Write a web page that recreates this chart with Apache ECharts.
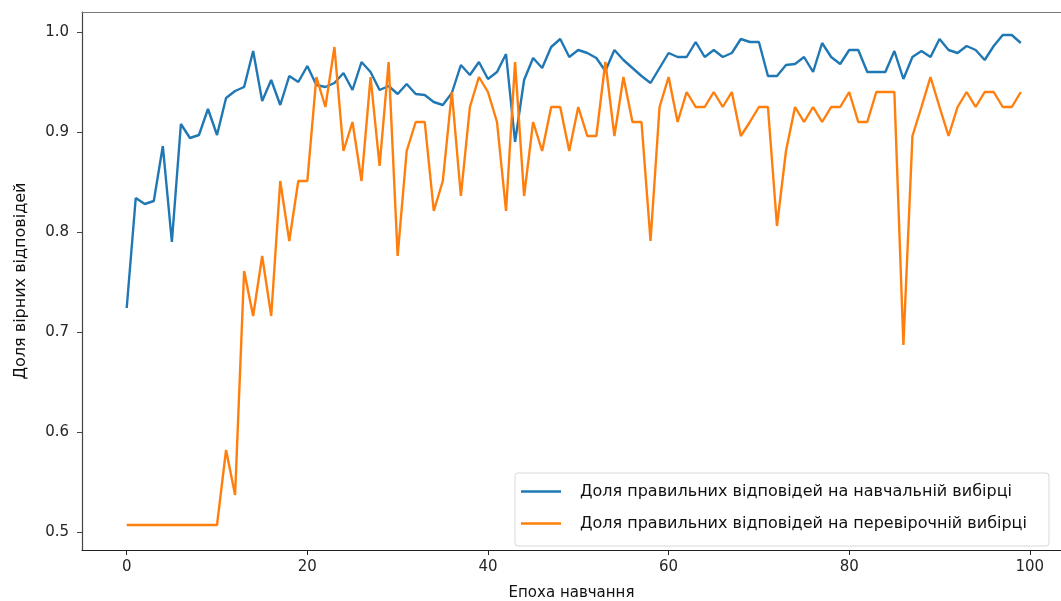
<!DOCTYPE html>
<html>
<head>
<meta charset="utf-8">
<script src="https://cdn.jsdelivr.net/npm/echarts@6/dist/echarts.min.js"></script>
<style>
  html, body { margin: 0; padding: 0; background: #ffffff; }
  #chart { width: 1061px; height: 601px; }
</style>
</head>
<body>
<div id="chart"></div>
<script>
// Accuracy per training epoch
const trainAccuracy = [
  0.724, 0.834, 0.828, 0.831, 0.886, 0.790, 0.908, 0.894, 0.897, 0.923,
  0.897, 0.934, 0.941, 0.945, 0.981, 0.931, 0.952, 0.927, 0.956, 0.950,
  0.966, 0.947, 0.945, 0.949, 0.959, 0.942, 0.970, 0.960, 0.942, 0.946,
  0.938, 0.948, 0.938, 0.937, 0.930, 0.927, 0.939, 0.967, 0.957, 0.970,
  0.953, 0.960, 0.978, 0.890, 0.952, 0.974, 0.964, 0.985, 0.993, 0.975,
  0.982, 0.979, 0.974, 0.961, 0.982, 0.972, 0.964, 0.956, 0.949, 0.964,
  0.979, 0.975, 0.975, 0.990, 0.975, 0.982, 0.975, 0.979, 0.993, 0.990,
  0.990, 0.956, 0.956, 0.967, 0.968, 0.975, 0.960, 0.989, 0.975, 0.968,
  0.982, 0.982, 0.960, 0.960, 0.960, 0.981, 0.953, 0.975, 0.981, 0.975,
  0.993, 0.982, 0.979, 0.986, 0.982, 0.972, 0.986, 0.997, 0.997, 0.989
];

const validAccuracy = [
  0.507, 0.507, 0.507, 0.507, 0.507, 0.507, 0.507, 0.507, 0.507, 0.507,
  0.507, 0.582, 0.537, 0.761, 0.716, 0.776, 0.716, 0.851, 0.791, 0.851,
  0.851, 0.955, 0.925, 0.985, 0.881, 0.910, 0.851, 0.955, 0.866, 0.970,
  0.776, 0.881, 0.910, 0.910, 0.821, 0.851, 0.940, 0.836, 0.925, 0.955,
  0.940, 0.910, 0.821, 0.970, 0.836, 0.910, 0.881, 0.925, 0.925, 0.881,
  0.925, 0.896, 0.896, 0.970, 0.896, 0.955, 0.910, 0.910, 0.791, 0.925,
  0.955, 0.910, 0.940, 0.925, 0.925, 0.940, 0.925, 0.940, 0.896, 0.910,
  0.925, 0.925, 0.806, 0.881, 0.925, 0.910, 0.925, 0.910, 0.925, 0.925,
  0.940, 0.910, 0.910, 0.940, 0.940, 0.940, 0.687, 0.896, 0.925, 0.955,
  0.925, 0.896, 0.925, 0.940, 0.925, 0.940, 0.940, 0.925, 0.925, 0.940
];

const epochs = trainAccuracy.map((_, i) => i);

const xTicks = [0, 20, 40, 60, 80, 100];
const yTicks = [0.5, 0.6, 0.7, 0.8, 0.9, 1.0];

const seriesNames = [
  'Доля правильних відповідей на навчальній вибірці',
  'Доля правильних відповідей на перевірочній вибірці'
];
const xTitle = 'Епоха навчання';
const yTitle = 'Доля вірних відповідей';

const FONT = "'DejaVu Sans', sans-serif";
const TEXT = '#262626';

const chart = echarts.init(document.getElementById('chart'), null, { renderer: 'canvas' });

const pairs = (vals) => epochs.map((e, i) => [e, vals[i]]);

chart.setOption({
  animation: false,
  backgroundColor: '#ffffff',
  grid: {
    left: 82, right: 0, top: 12, bottom: 51,
    containLabel: false,
    outerBoundsMode: 'none'
  },
  xAxis: [
    {
      type: 'value',
      min: -4.95,
      max: 103.45,
      splitLine: { show: false },
      axisLine: { show: true, onZero: false, lineStyle: { color: '#222', width: 1.2 } },
      axisTick: { show: true, customValues: xTicks, length: 5, lineStyle: { color: '#222' } },
      axisLabel: {
        customValues: xTicks,
        margin: 10,
        color: TEXT,
        fontFamily: FONT,
        fontSize: 15
      },
      name: xTitle,
      nameLocation: 'middle',
      nameGap: 36,
      nameTextStyle: { color: '#111', fontFamily: FONT, fontSize: 15 }
    },
    {
      type: 'value',
      position: 'top',
      min: -4.95,
      max: 103.45,
      splitLine: { show: false },
      axisLine: { show: true, lineStyle: { color: '#777', width: 1.2 } },
      axisTick: { show: false },
      axisLabel: { show: false }
    }
  ],
  yAxis: {
    type: 'value',
    min: 0.482,
    max: 1.02,
    splitLine: { show: false },
    axisLine: { show: true, onZero: false, lineStyle: { color: '#444', width: 1.2 } },
    axisTick: { show: true, customValues: yTicks, length: 5, lineStyle: { color: '#444' } },
    axisLabel: {
      customValues: yTicks,
      margin: 13,
      color: TEXT,
      fontFamily: FONT,
      fontSize: 15,
      formatter: (v) => v.toFixed(1)
    },
    name: yTitle,
    nameLocation: 'middle',
    nameRotate: 90,
    nameGap: 53,
    nameTextStyle: { color: '#111', fontFamily: FONT, fontSize: 16 }
  },
  legend: {
    orient: 'vertical',
    left: 515,
    top: 473,
    padding: [9, 22, 13, 6],
    itemGap: 13,
    itemWidth: 40,
    itemHeight: 2.5,
    icon: 'rect',
    backgroundColor: 'rgba(255,255,255,0.85)',
    borderColor: '#d8d8d8',
    borderWidth: 1,
    borderRadius: 3,
    textStyle: {
      color: '#111',
      fontFamily: FONT,
      fontSize: 16,
      padding: [0, 0, 0, 14],
      lineHeight: 19
    },
    data: seriesNames
  },
  series: [
    {
      name: seriesNames[0],
      type: 'line',
      data: pairs(trainAccuracy),
      showSymbol: false,
      symbol: 'none',
      smooth: false,
      color: '#1f77b4',
      lineStyle: { width: 2.4, color: '#1f77b4' },
      z: 2
    },
    {
      name: seriesNames[1],
      type: 'line',
      data: pairs(validAccuracy),
      showSymbol: false,
      symbol: 'none',
      smooth: false,
      color: '#ff7f0e',
      lineStyle: { width: 2.4, color: '#ff7f0e' },
      z: 3
    }
  ]
});
</script>
</body>
</html>
